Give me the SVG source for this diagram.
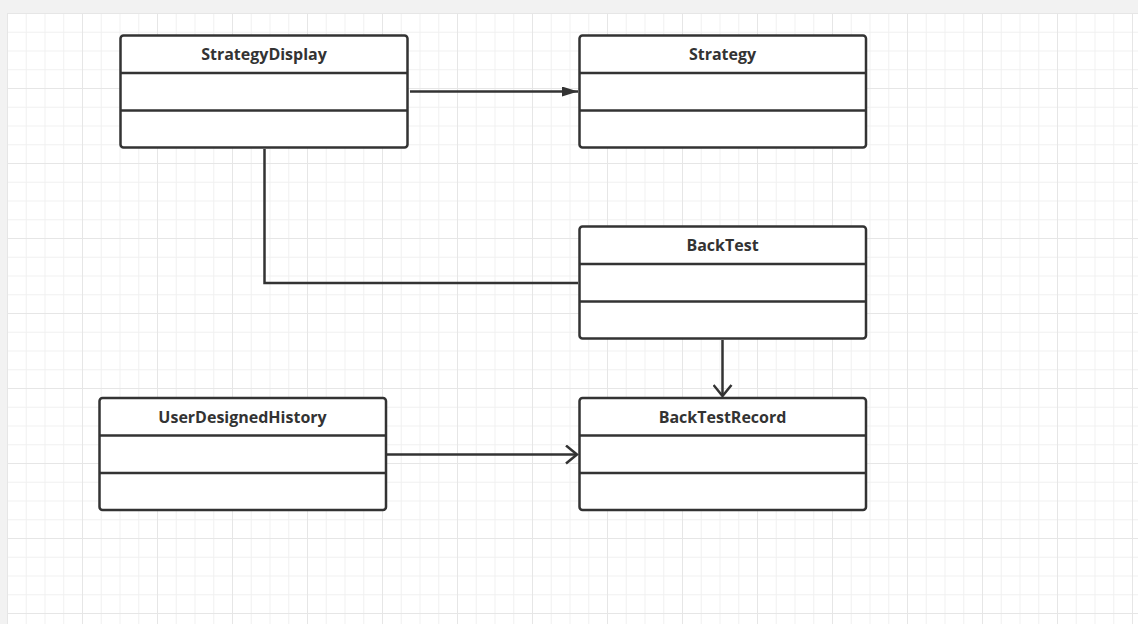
<svg xmlns="http://www.w3.org/2000/svg" width="1138" height="624" viewBox="0 0 1138 624">
<defs>
<pattern id="minor" x="7" y="13" width="18.75" height="18.75" patternUnits="userSpaceOnUse">
<path d="M0 0.5H18.75M0.5 0V18.75" fill="none" stroke="#f0f0f0" stroke-width="1"/>
</pattern>
<pattern id="major" x="7" y="13" width="75" height="75" patternUnits="userSpaceOnUse">
<path d="M0 0.5H75M0.5 0V75" fill="none" stroke="#e6e6e6" stroke-width="1"/>
</pattern>
<marker id="filled" viewBox="0 0 16 10" refX="16" refY="5" markerWidth="16" markerHeight="10" markerUnits="userSpaceOnUse" orient="auto">
<path d="M0 0L16 5L0 10Z" fill="#333"/>
</marker>
<marker id="open" viewBox="0 0 14 20" refX="12" refY="10" markerWidth="14" markerHeight="20" markerUnits="userSpaceOnUse" orient="auto">
<path d="M1 1L12 10L1 19" fill="none" stroke="#333" stroke-width="2.5"/>
</marker>
</defs>
<style>
.box{fill:#fff;stroke:#333;stroke-width:2.5}
.sep{stroke:#333;stroke-width:2.5}
.t{font-family:"Open Sans","Noto Sans",sans-serif;font-weight:bold;font-size:16px;fill:#333;text-anchor:middle}
.c{fill:none;stroke:#333;stroke-width:2.5}
</style>
<rect width="1138" height="624" fill="#f2f2f2"/>
<rect x="7" y="13" width="1131" height="611" fill="#fff"/>
<rect x="7" y="13" width="1131" height="611" fill="url(#minor)"/>
<rect x="7" y="13" width="1131" height="611" fill="url(#major)"/>
<g id="connectors">
<path class="c" d="M410 91.5H578" marker-end="url(#filled)"/>
<path class="c" d="M264.5 149V283H578"/>
<path class="c" d="M722.5 340V396" marker-end="url(#open)"/>
<path class="c" d="M387 454.5H577" marker-end="url(#open)"/>
</g>
<g id="StrategyDisplay">
<rect class="box" x="120.5" y="35.5" width="287" height="112" rx="3"/>
<path class="sep" d="M120.5 73H407.5M120.5 110.5H407.5"/>
<text class="t" x="264" y="60">StrategyDisplay</text>
</g>
<g id="Strategy">
<rect class="box" x="579.5" y="35.5" width="286.5" height="112" rx="3"/>
<path class="sep" d="M579.5 73H866M579.5 110.5H866"/>
<text class="t" x="722.5" y="60">Strategy</text>
</g>
<g id="BackTest">
<rect class="box" x="579.5" y="226.5" width="286.5" height="112" rx="3"/>
<path class="sep" d="M579.5 264H866M579.5 301.5H866"/>
<text class="t" x="722.5" y="251">BackTest</text>
</g>
<g id="BackTestRecord">
<rect class="box" x="579.5" y="398" width="286.5" height="112" rx="3"/>
<path class="sep" d="M579.5 435.5H866M579.5 473H866"/>
<text class="t" x="722.5" y="423">BackTestRecord</text>
</g>
<g id="UserDesignedHistory">
<rect class="box" x="99.5" y="398" width="286.5" height="112" rx="3"/>
<path class="sep" d="M99.5 435.5H386M99.5 473H386"/>
<text class="t" x="242.5" y="423">UserDesignedHistory</text>
</g>
</svg>
